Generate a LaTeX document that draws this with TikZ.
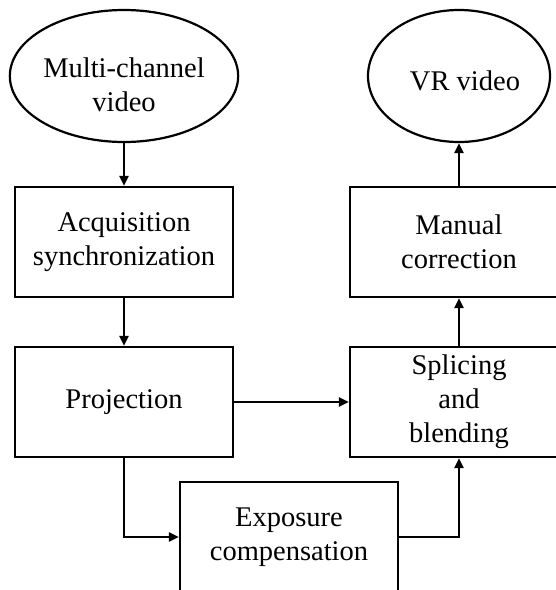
\documentclass[tikz,border=0pt]{standalone}
\usepackage{fontspec}
\setmainfont{Liberation Serif}
\usetikzlibrary{arrows.meta,positioning,shapes.geometric}

\begin{document}
\begin{tikzpicture}[x=1pt,y=1pt,on grid,
  every node/.style={font=\fontsize{28.5}{34}\selectfont,align=center},
  stage/.style={draw,line width=2.2pt,rectangle,minimum width=218pt,minimum height=110pt,inner sep=0pt},
  terminal/.style={draw,line width=2.2pt,ellipse,minimum width=182pt,minimum height=132pt,inner sep=0pt},
  flow/.style={line width=2.2pt,-{Triangle[length=10pt,width=9pt]}}]
\useasboundingbox (0,0) rectangle (556,-590);
\clip (0,0) rectangle (556,-590);
\node[terminal] (multi) at (124,-76) {\rule{0pt}{37pt}Multi-channel\\video};
\node[stage] (acq) [below=166pt of multi] {Acquisition\\synchronization};
\node[stage] (proj) [below=160pt of acq] {Projection};
\node[stage] (splice) [right=335pt of proj] {Splicing\\and\\blending};
\node[stage] (manual) [above=160pt of splice] {Manual\\correction};
\node[terminal] (vr) [above=166pt of manual] {\rule{0pt}{30pt}\hspace*{12pt}VR video};
\node[stage] (expo) at (289,-537) {Exposure\\compensation};
\path[flow]
(multi) edge (acq)
(acq) edge (proj)
(proj) edge (splice)
(splice) edge (manual)
(manual) edge (vr);
\draw[flow] (proj.south) |- (expo.west);
\draw[flow] (expo.east) -| (splice.south);
\end{tikzpicture}
\end{document}
